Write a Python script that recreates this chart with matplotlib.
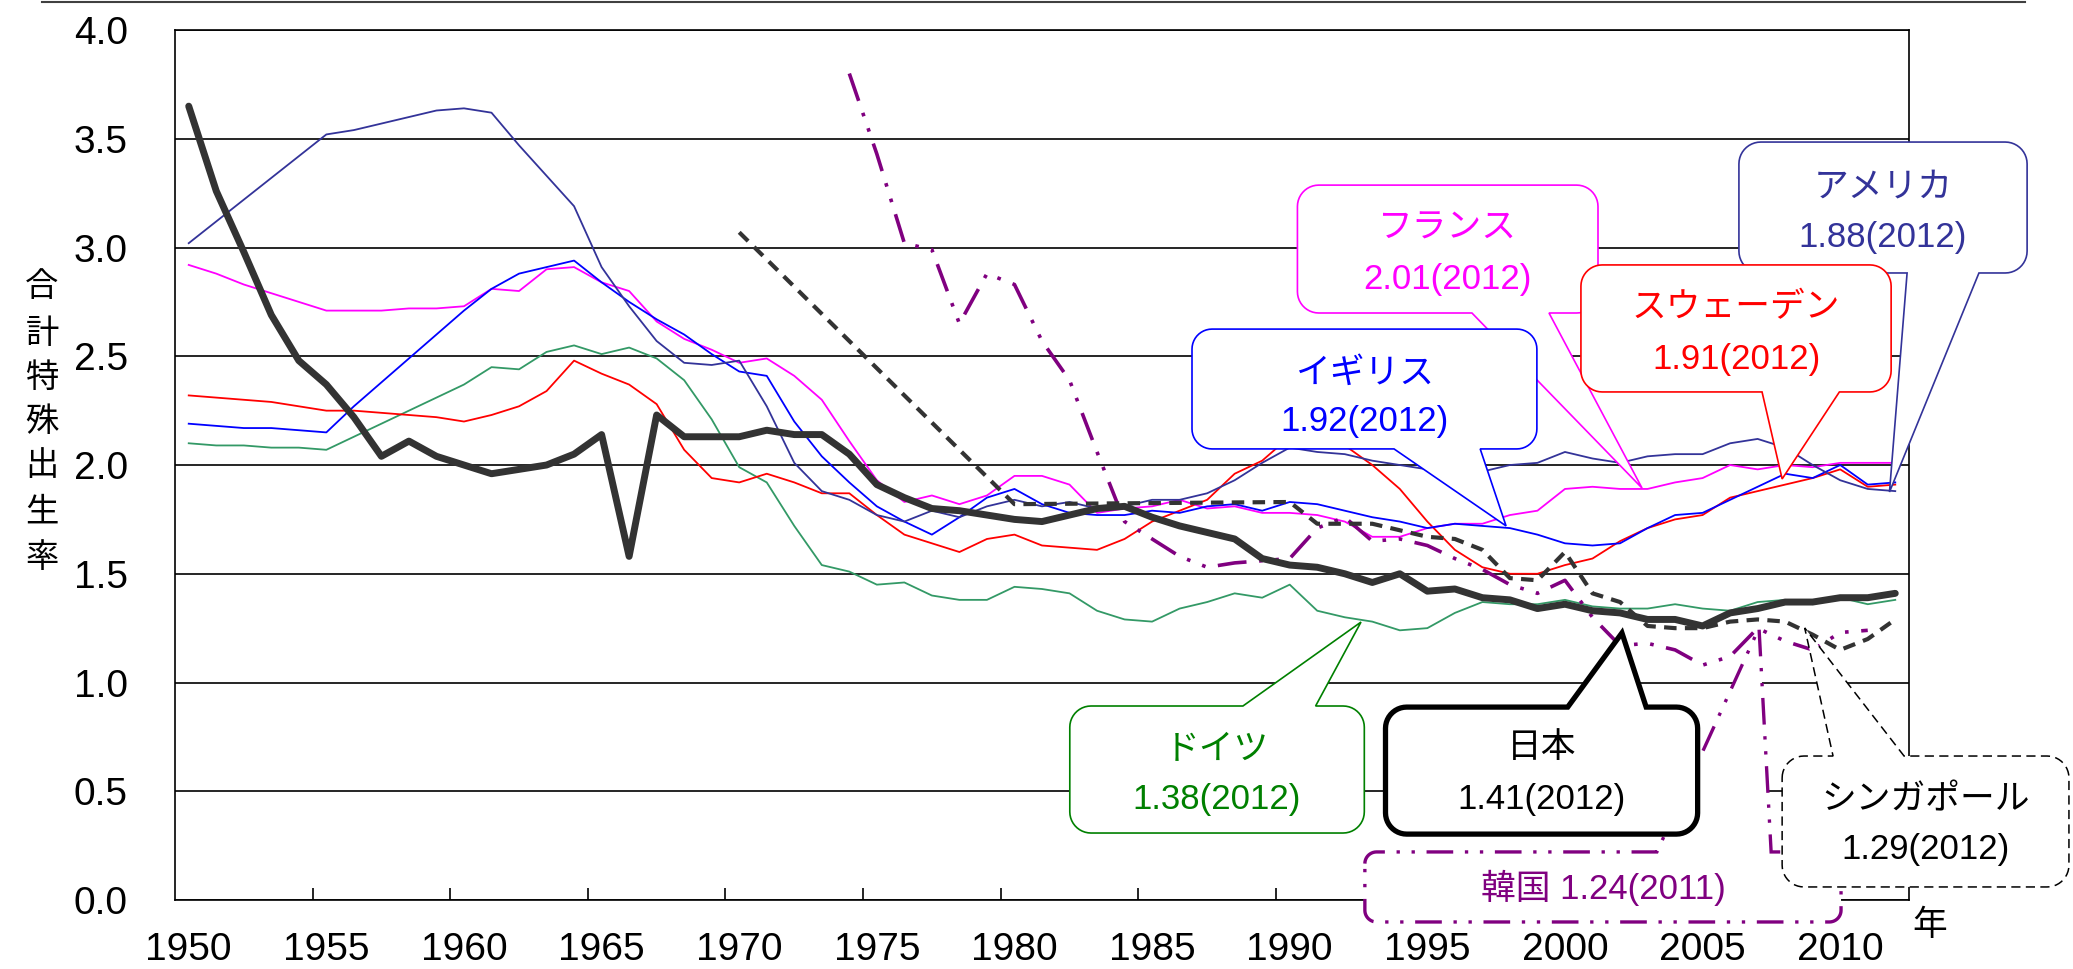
import numpy as np
import matplotlib
matplotlib.use('Agg')
from matplotlib import pyplot as plt
from matplotlib.patches import Polygon
from matplotlib.lines import Line2D

# Total fertility rate by country, 1950-2012 (None = no data)
years = list(range(1950, 2013))

japan = [3.65, 3.26, 2.98, 2.69, 2.48, 2.37, 2.22, 2.04, 2.11, 2.04,
         2.00, 1.96, 1.98, 2.00, 2.05, 2.14, 1.58, 2.23, 2.13, 2.13,
         2.13, 2.16, 2.14, 2.14, 2.05, 1.91, 1.85, 1.80, 1.79, 1.77,
         1.75, 1.74, 1.77, 1.80, 1.81, 1.76, 1.72, 1.69, 1.66, 1.57,
         1.54, 1.53, 1.50, 1.46, 1.50, 1.42, 1.43, 1.39, 1.38, 1.34,
         1.36, 1.33, 1.32, 1.29, 1.29, 1.26, 1.32, 1.34, 1.37, 1.37,
         1.39, 1.39, 1.41]

usa = [3.02, 3.12, 3.22, 3.32, 3.42, 3.52, 3.54, 3.57, 3.60, 3.63,
       3.64, 3.62, 3.47, 3.33, 3.19, 2.91, 2.73, 2.57, 2.47, 2.46,
       2.48, 2.27, 2.01, 1.88, 1.84, 1.77, 1.74, 1.79, 1.76, 1.81,
       1.84, 1.81, 1.83, 1.80, 1.81, 1.84, 1.84, 1.87, 1.93, 2.01,
       2.08, 2.06, 2.05, 2.02, 2.00, 1.98, 1.98, 1.97, 2.00, 2.01,
       2.06, 2.03, 2.01, 2.04, 2.05, 2.05, 2.10, 2.12, 2.08, 2.00,
       1.93, 1.89, 1.88]

uk = [2.19, 2.18, 2.17, 2.17, 2.16, 2.15, 2.27, 2.38, 2.49, 2.60,
      2.71, 2.81, 2.88, 2.91, 2.94, 2.84, 2.75, 2.67, 2.60, 2.51,
      2.43, 2.41, 2.20, 2.04, 1.92, 1.81, 1.74, 1.68, 1.76, 1.85,
      1.89, 1.82, 1.78, 1.77, 1.77, 1.79, 1.78, 1.81, 1.82, 1.79,
      1.83, 1.82, 1.79, 1.76, 1.74, 1.71, 1.73, 1.72, 1.71, 1.68,
      1.64, 1.63, 1.64, 1.71, 1.77, 1.78, 1.84, 1.90, 1.96, 1.94,
      2.00, 1.91, 1.92]

france = [2.92, 2.88, 2.83, 2.79, 2.75, 2.71, 2.71, 2.71, 2.72, 2.72,
          2.73, 2.81, 2.80, 2.90, 2.91, 2.84, 2.80, 2.66, 2.58, 2.53,
          2.47, 2.49, 2.41, 2.30, 2.11, 1.93, 1.83, 1.86, 1.82, 1.86,
          1.95, 1.95, 1.91, 1.78, 1.80, 1.81, 1.84, 1.80, 1.81, 1.78,
          1.78, 1.77, 1.74, 1.67, 1.67, 1.71, 1.73, 1.73, 1.77, 1.79,
          1.89, 1.90, 1.89, 1.89, 1.92, 1.94, 2.00, 1.98, 2.00, 1.99,
          2.01, 2.01, 2.01]

sweden = [2.32, 2.31, 2.30, 2.29, 2.27, 2.25, 2.25, 2.24, 2.23, 2.22,
          2.20, 2.23, 2.27, 2.34, 2.48, 2.42, 2.37, 2.28, 2.07, 1.94,
          1.92, 1.96, 1.92, 1.87, 1.87, 1.77, 1.68, 1.64, 1.60, 1.66,
          1.68, 1.63, 1.62, 1.61, 1.66, 1.74, 1.79, 1.84, 1.96, 2.02,
          2.13, 2.11, 2.09, 2.00, 1.89, 1.74, 1.61, 1.53, 1.50, 1.50,
          1.54, 1.57, 1.65, 1.71, 1.75, 1.77, 1.85, 1.88, 1.91, 1.94,
          1.98, 1.90, 1.91]

germany = [2.10, 2.09, 2.09, 2.08, 2.08, 2.07, 2.13, 2.19, 2.25, 2.31,
           2.37, 2.45, 2.44, 2.52, 2.55, 2.51, 2.54, 2.49, 2.39, 2.21,
           1.99, 1.92, 1.72, 1.54, 1.51, 1.45, 1.46, 1.40, 1.38, 1.38,
           1.44, 1.43, 1.41, 1.33, 1.29, 1.28, 1.34, 1.37, 1.41, 1.39,
           1.45, 1.33, 1.30, 1.28, 1.24, 1.25, 1.32, 1.37, 1.36, 1.36,
           1.38, 1.35, 1.34, 1.34, 1.36, 1.34, 1.33, 1.37, 1.38, 1.36,
           1.39, 1.36, 1.38]

singapore = [None] * 20 + [
    3.07, None, None, None, None, None, None, None, None, None,
    1.82, None, None, None, None, None, None, None, None, None,
    1.83, 1.73, 1.73, 1.73, 1.70, 1.67, 1.66, 1.61, 1.48, 1.47,
    1.60, 1.41, 1.37, 1.26, 1.25, 1.25, 1.28, 1.29, 1.28, 1.22,
    1.15, 1.20, 1.29]

korea = [None] * 24 + [
    3.80, 3.43, 3.02, 2.99, 2.65, 2.88,
    2.83, 2.57, 2.39, 2.06, 1.74, 1.66, 1.58, 1.53, 1.55, 1.56,
    1.57, 1.71, 1.76, 1.65, 1.66, 1.63, 1.57, 1.52, 1.45, 1.41,
    1.47, 1.30, 1.17, 1.18, 1.15, 1.08, 1.12, 1.25, 1.19, 1.15,
    1.23, 1.24, None]

yticks = [0.0, 0.5, 1.0, 1.5, 2.0, 2.5, 3.0, 3.5, 4.0]
xlabel_years = list(range(1950, 2011, 5))
ylabel_chars = ['合', '計', '特', '殊', '出', '生', '率']

plt.rcParams['font.family'] = ['Liberation Sans', 'Noto Sans CJK JP']

KOREA_DASH = (0, (8, 3.5, 1, 3.5, 1, 3.5))


def draw_series(ax, vals, **kw):
    v = np.array(vals, dtype=float)
    x = np.array(years, dtype=float)
    ok = ~np.isnan(v)
    ax.plot(x[ok], v[ok], **kw)


def callout(ax, box, side, base, tip, color, lw, ls, z, ppx, ppy):
    # rounded rectangle with a triangular pointer, built in data units
    x0, x1, y0, y1 = box
    r = min((x1 - x0) * ppx, (y1 - y0) * ppy) * 0.1667
    rx, ry = r / ppx, r / ppy

    def arc(cx, cy, a0, a1):
        t = np.radians(np.linspace(a0, a1, 12))
        return list(zip(cx + rx * np.cos(t), cy + ry * np.sin(t)))

    pts = arc(x0 + rx, y1 - ry, 180, 90)
    if side == 'top':
        pts += [(base[0], y1), tip, (base[1], y1)]
    pts += arc(x1 - rx, y1 - ry, 90, 0)
    pts += arc(x1 - rx, y0 + ry, 0, -90)
    if side == 'bottom':
        pts += [(base[1], y0), tip, (base[0], y0)]
    pts += arc(x0 + rx, y0 + ry, -90, -180)
    ax.add_patch(Polygon(pts, closed=True, facecolor='white', edgecolor=color,
                         lw=lw, linestyle=ls, joinstyle='miter', zorder=z,
                         clip_on=False))


def main():
    fig = plt.figure(figsize=(20.73, 9.69), dpi=100)
    ax = fig.add_axes([0.0844, 0.0712, 0.8365, 0.8978])

    # the series
    thin = dict(lw=1.3, solid_joinstyle='round')
    draw_series(ax, germany, color='#339966', zorder=3, **thin)
    draw_series(ax, sweden, color='#FF0000', zorder=3, **thin)
    draw_series(ax, france, color='#FF00FF', zorder=3, **thin)
    draw_series(ax, uk, color='#0000FF', zorder=3, **thin)
    draw_series(ax, usa, color='#333399', zorder=3, **thin)
    draw_series(ax, korea, color='#800080', lw=2.6, linestyle=KOREA_DASH, zorder=3)
    draw_series(ax, singapore, color='#333333', lw=3.0, linestyle=(0, (3, 2)), zorder=3)
    draw_series(ax, japan, color='#333333', lw=5.0, solid_joinstyle='round',
                solid_capstyle='round', zorder=4)

    # axes
    ax.set_xlim(1949.5, 2012.5)
    ax.set_ylim(0, 4)
    ax.set_yticks(yticks)
    ax.set_yticklabels(['%.1f' % t for t in yticks])
    ax.set_xticks(xlabel_years)
    ax.set_xticks(np.arange(1954.5, 2010, 5), minor=True)
    ax.tick_params(axis='both', which='major', length=0, labelsize=28)
    ax.tick_params(axis='y', pad=34)
    ax.tick_params(axis='x', pad=23)
    ax.tick_params(axis='x', which='minor', direction='in', length=9, width=1.2,
                   color='black')
    ax.grid(axis='y', color='black', lw=1.2, zorder=1)
    ax.set_axisbelow(True)
    for s in ax.spines.values():
        s.set_color('black')
        s.set_linewidth(1.2)

    # callouts
    bb = ax.get_position()
    ppx = bb.width * fig.get_figwidth() * fig.dpi / 63.0
    ppy = bb.height * fig.get_figheight() * fig.dpi / 4.0
    fs = 25

    callout(ax, (1990.28, 2001.20, 2.699, 3.287), 'bottom', (1996.62, 1999.42),
            (2002.80, 1.894), '#FF00FF', 1.2, '-', 5, ppx, ppy)
    ax.text(1995.74, 3.09, 'フランス', color='#FF00FF', fontsize=fs, ha='center', va='center', zorder=5.1)
    ax.text(1995.74, 2.851, '2.01(2012)', color='#FF00FF', fontsize=fs, ha='center', va='center', zorder=5.1)

    callout(ax, (1986.45, 1998.98, 2.074, 2.625), 'bottom', (1993.79, 1996.92),
            (1997.86, 1.720), '#0000FF', 1.2, '-', 6, ppx, ppy)
    ax.text(1992.72, 2.423, 'イギリス', color='#0000FF', fontsize=fs, ha='center', va='center', zorder=6.1)
    ax.text(1992.72, 2.198, '1.92(2012)', color='#0000FF', fontsize=fs, ha='center', va='center', zorder=6.1)

    callout(ax, (2006.32, 2016.79, 2.883, 3.485), 'bottom', (2012.43, 2015.04),
            (2011.79, 1.876), '#333399', 1.2, '-', 5, ppx, ppy)
    ax.text(2011.55, 3.278, 'アメリカ', color='#333399', fontsize=fs, ha='center', va='center', zorder=5.1, clip_on=False)
    ax.text(2011.55, 3.048, '1.88(2012)', color='#333399', fontsize=fs, ha='center', va='center', zorder=5.1, clip_on=False)

    callout(ax, (2000.58, 2011.85, 2.336, 2.920), 'bottom', (2007.16, 2009.97),
            (2007.89, 1.936), '#FF0000', 1.2, '-', 6, ppx, ppy)
    ax.text(2006.22, 2.722, 'スウェーデン', color='#FF0000', fontsize=fs, ha='center', va='center', zorder=6.1)
    ax.text(2006.22, 2.483, '1.91(2012)', color='#FF0000', fontsize=fs, ha='center', va='center', zorder=6.1)

    callout(ax, (1982.01, 1992.71, 0.308, 0.892), 'top', (1988.30, 1990.94),
            (1992.59, 1.278), '#008000', 1.2, '-', 5, ppx, ppy)
    ax.text(1987.36, 0.69, 'ドイツ', color='#008000', fontsize=fs, ha='center', va='center', zorder=5.1)
    ax.text(1987.36, 0.46, '1.38(2012)', color='#008000', fontsize=fs, ha='center', va='center', zorder=5.1)

    callout(ax, (1992.73, 2010.03, -0.101, 0.221), 'top', (2003.34, 2007.49),
            (2007.05, 1.251), '#800080', 2.4, KOREA_DASH, 5, ppx, ppy)
    ax.text(2001.38, 0.055, '韓国 1.24(2011)', color='#800080', fontsize=fs, ha='center', va='center', zorder=5.1, clip_on=False)

    callout(ax, (1993.48, 2004.82, 0.303, 0.887), 'top', (2000.10, 2002.95),
            (2002.07, 1.228), 'black', 3.8, '-', 6, ppx, ppy)
    ax.text(1999.15, 0.699, '日本', color='black', fontsize=fs, ha='center', va='center', zorder=6.1)
    ax.text(1999.15, 0.46, '1.41(2012)', color='black', fontsize=fs, ha='center', va='center', zorder=6.1)

    callout(ax, (2007.89, 2018.31, 0.060, 0.662), 'top', (2009.74, 2012.32),
            (2008.71, 1.251), 'black', 1.1, (0, (6, 3.5)), 7, ppx, ppy)
    ax.text(2013.1, 0.46, 'シンガポール', color='black', fontsize=fs, ha='center', va='center', zorder=7.1, clip_on=False)
    ax.text(2013.1, 0.23, '1.29(2012)', color='black', fontsize=fs, ha='center', va='center', zorder=7.1, clip_on=False)

    # axis titles
    ax.text(2013.26, -0.115, '年', fontsize=fs, ha='center', va='center', clip_on=False)
    ys = [287, 333, 377, 422, 466, 512, 558]
    for ch, py in zip(ylabel_chars, ys):
        fig.text(42 / 2073, 1 - py / 969, ch, fontsize=24, ha='center', va='center',
                 family=['Noto Sans CJK JP'])

    # rule across the top of the figure
    fig.add_artist(Line2D([42 / 2073, 2025 / 2073], [1 - 1.5 / 969] * 2,
                          color='#404040', lw=1.5, transform=fig.transFigure))

    fig.savefig('out.png', dpi=100)


main()
